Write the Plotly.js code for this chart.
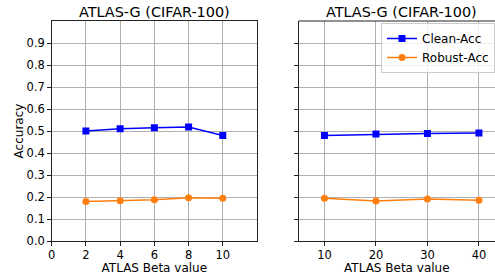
<!DOCTYPE html>
<html>
<head>
<meta charset="utf-8">
<script src="https://cdn.plot.ly/plotly-3.0.1.min.js"></script>
<style>html,body{margin:0;padding:0;background:#fff;}#chart{width:495px;height:275px;}</style>
</head>
<body>
<div id="chart"></div>
<script>
const betaLeft = [2, 4, 6, 8, 10];
const cleanLeft = [0.500, 0.510, 0.515, 0.518, 0.480];
const robustLeft = [0.179, 0.183, 0.188, 0.197, 0.194];
const betaRight = [10, 20, 30, 40];
const cleanRight = [0.480, 0.486, 0.489, 0.491];
const robustRight = [0.194, 0.182, 0.191, 0.185];
const yTicks = [0, 0.1, 0.2, 0.3, 0.4, 0.5, 0.6, 0.7, 0.8, 0.9];
const titleText = 'ATLAS-G (CIFAR-100)';
const xTitle = 'ATLAS Beta value';
const yTitle = 'Accuracy';

const blue = '#0000ff', orange = '#ff7f0e';
const font = 'DejaVu Sans, sans-serif';

const traces = [
  {x: betaLeft, y: cleanLeft, xaxis: 'x', yaxis: 'y', name: 'Clean-Acc', mode: 'lines+markers',
   line: {color: blue, width: 1.5}, marker: {symbol: 'square', size: 7, color: blue}, showlegend: false},
  {x: betaLeft, y: robustLeft, xaxis: 'x', yaxis: 'y', name: 'Robust-Acc', mode: 'lines+markers',
   line: {color: orange, width: 1.5}, marker: {symbol: 'circle', size: 7, color: orange}, showlegend: false},
  {x: betaRight, y: cleanRight, xaxis: 'x2', yaxis: 'y2', name: 'Clean-Acc', mode: 'lines+markers',
   line: {color: blue, width: 1.5}, marker: {symbol: 'square', size: 7, color: blue}},
  {x: betaRight, y: robustRight, xaxis: 'x2', yaxis: 'y2', name: 'Robust-Acc', mode: 'lines+markers',
   line: {color: orange, width: 1.5}, marker: {symbol: 'circle', size: 7, color: orange}}
];

const axBase = {
  showgrid: true, gridcolor: '#b0b0b0', gridwidth: 1,
  showline: true, linecolor: '#222', linewidth: 1,
  ticks: 'outside', ticklen: 3.5, tickcolor: '#222', tickwidth: 1,
  zeroline: false, tickfont: {family: font, size: 11.5, color: '#000'}
};

const yDom = [1 - 241/275, 1 - 21/275];
const layout = {
  width: 495, height: 275,
  margin: {l: 0, r: 0, t: 0, b: 0},
  paper_bgcolor: '#fff', plot_bgcolor: '#fff',
  font: {family: font, color: '#000'},
  xaxis: Object.assign({}, axBase, {domain: [51.7/495, 257/495], range: [0, 12], tickvals: [0,2,4,6,8,10], mirror: true,
    anchor: 'y', title: {text: xTitle, font: {family: font, size: 12}, standoff: 2}}),
  yaxis: Object.assign({}, axBase, {domain: yDom, range: [0, 1], tickvals: yTicks, tickformat: '.1f', mirror: true,
    anchor: 'x', title: {text: yTitle, font: {family: font, size: 12}, standoff: 0}}),
  xaxis2: Object.assign({}, axBase, {domain: [298.7/495, 1], range: [5, 5 + (495-298.7)/5.15], tickvals: [10,20,30,40],
    anchor: 'y2', mirror: false, title: {text: xTitle, font: {family: font, size: 12}, standoff: 2}}),
  yaxis2: Object.assign({}, axBase, {domain: yDom, range: [0, 1], tickvals: yTicks, showticklabels: false,
    anchor: 'x2', mirror: false}),
  shapes: [
    {type: 'line', xref: 'x2 domain', yref: 'y2 domain', x0: 0, x1: 1, y0: 1, y1: 1, line: {color: '#222', width: 1}}
  ],
  annotations: [
    {text: titleText, xref: 'paper', yref: 'paper', x: (51.7+257)/2/495, y: 1 - 12/275, xanchor: 'center', yanchor: 'middle',
     showarrow: false, font: {family: font, size: 14.4, color: '#000'}},
    {text: titleText, xref: 'paper', yref: 'paper', x: (298.7+504)/2/495, y: 1 - 12/275, xanchor: 'center', yanchor: 'middle',
     showarrow: false, font: {family: font, size: 14.4, color: '#000'}}
  ],
  legend: {x: 1, y: 1 - 23/275, xanchor: 'right', yanchor: 'top', bgcolor: 'rgba(255,255,255,0.8)',
    bordercolor: '#cccccc', borderwidth: 1, font: {family: font, size: 12}, tracegroupgap: 0, itemwidth: 30}
};

Plotly.newPlot('chart', traces, layout, {staticPlot: true, displayModeBar: false});
</script>
</body>
</html>
